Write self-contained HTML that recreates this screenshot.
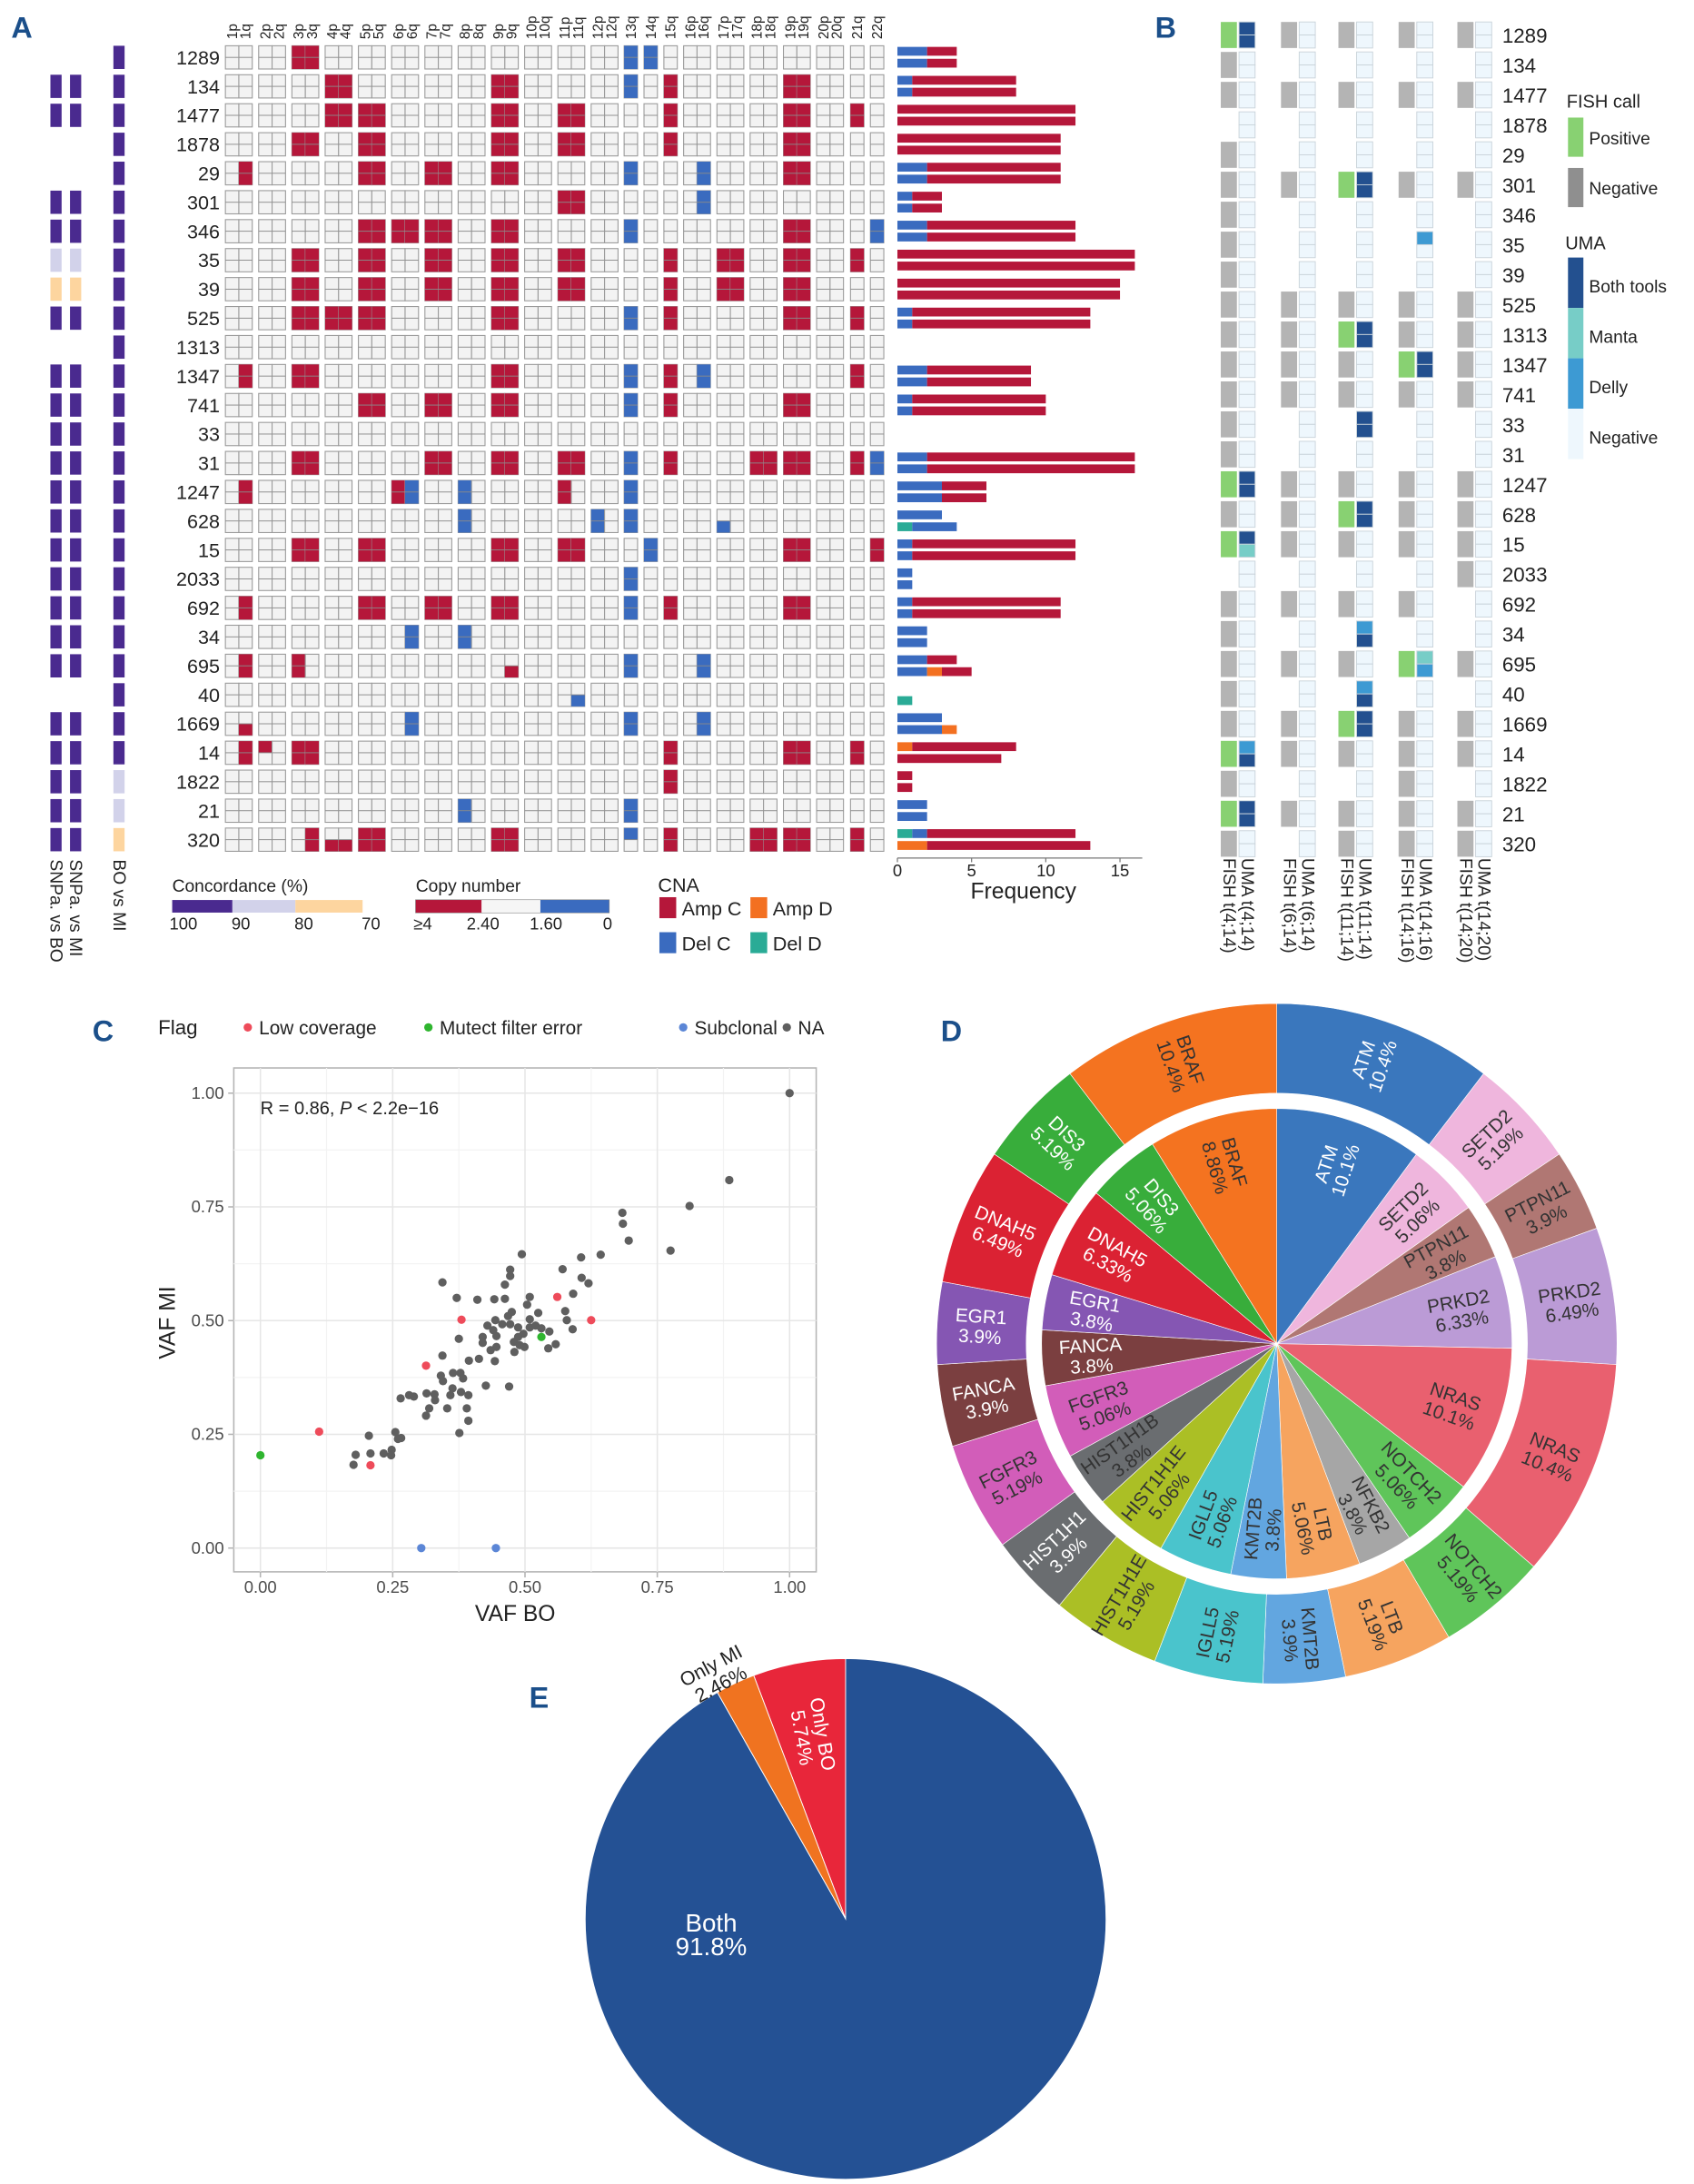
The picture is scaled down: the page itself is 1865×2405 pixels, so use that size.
<!DOCTYPE html>
<html><head><meta charset="utf-8">
<style>
html,body{margin:0;padding:0;background:#fff;}
svg{display:block;font-family:"Liberation Sans",Arial,sans-serif;}
</style></head>
<body>
<svg id="fig" xmlns="http://www.w3.org/2000/svg" width="1865" height="2405" viewBox="0 0 1210 1560.35">
<rect x="0" y="0" width="1210" height="1561" fill="#fff"/>
<text x="8" y="27" font-size="21" font-weight="bold" fill="#1b4f8a">A</text>
<text x="825" y="27" font-size="21" font-weight="bold" fill="#1b4f8a">B</text>
<text x="66" y="744" font-size="21" font-weight="bold" fill="#1b4f8a">C</text>
<text x="672" y="744" font-size="21" font-weight="bold" fill="#1b4f8a">D</text>
<text x="378" y="1220" font-size="21" font-weight="bold" fill="#1b4f8a">E</text>
<g id="gA"></g>
<g id="gB"></g>
<g id="gC"></g>
<g id="gD"></g>
<g id="gE"></g>
</svg>
<script>
// ---------- Panel A data ----------
const samples = ["1289","134","1477","1878","29","301","346","35","39","525","1313","1347","741","33","31","1247","628","15","2033","692","34","695","40","1669","14","1822","21","320"];
const chromosomes = ["1","2","3","4","5","6","7","8","9","10","11","12","13","14","15","16","17","18","19","20","21","22"];
const singleArm = ["13","14","15","21","22"];
const cnaEvents = [
 "3p:A,3q:A,13q:D,14q:D",
 "4p:A,4q:A,9p:A,9q:A,13q:D,15q:A,19p:A,19q:A",
 "4p:A,4q:A,5p:A,5q:A,9p:A,9q:A,11p:A,11q:A,15q:A,19p:A,19q:A,21q:A",
 "3p:A,3q:A,5p:A,5q:A,9p:A,9q:A,11p:A,11q:A,15q:A,19p:A,19q:A",
 "1q:A,5p:A,5q:A,7p:A,7q:A,9p:A,9q:A,13q:D,16q:D,19p:A,19q:A",
 "11p:A,11q:A,16q:D",
 "5p:A,5q:A,6p:A,6q:A,7p:A,7q:A,9p:A,9q:A,13q:D,19p:A,19q:A,22q:D",
 "3p:A,3q:A,5p:A,5q:A,7p:A,7q:A,9p:A,9q:A,11p:A,11q:A,15q:A,17p:A,17q:A,19p:A,19q:A,21q:A",
 "3p:A,3q:A,5p:A,5q:A,7p:A,7q:A,9p:A,9q:A,11p:A,11q:A,15q:A,17p:A,17q:A,19p:A,19q:A",
 "3p:A,3q:A,4p:A,4q:A,5p:A,5q:A,9p:A,9q:A,13q:D,15q:A,19p:A,19q:A,21q:A",
 "",
 "1q:A,3p:A,3q:A,9p:A,9q:A,13q:D,15q:A,16q:D,21q:A",
 "5p:A,5q:A,7p:A,7q:A,9p:A,9q:A,13q:D,15q:A,19p:A,19q:A",
 "",
 "3p:A,3q:A,7p:A,7q:A,9p:A,9q:A,11p:A,11q:A,13q:D,15q:A,18p:A,18q:A,19p:A,19q:A,21q:A,22q:D",
 "1q:A,6p:A,6q:D,8p:D,11p:A,13q:D",
 "8p:D,12p:D,13q:D,17p:Db",
 "3p:A,3q:A,5p:A,5q:A,9p:A,9q:A,11p:A,11q:A,14q:D,19p:A,19q:A,22q:A",
 "13q:D",
 "1q:A,5p:A,5q:A,7p:A,7q:A,9p:A,9q:A,13q:D,15q:A,19p:A,19q:A",
 "6q:D,8p:D",
 "1q:A,3p:A,9q:Ab,13q:D,16q:D",
 "11q:Db",
 "1q:Ab,6q:D,13q:D,16q:D",
 "1q:A,2p:At,3p:A,3q:A,15q:A,19p:A,19q:A,21q:A",
 "15q:A",
 "8p:D,13q:D",
 "3q:A,4p:Ab,4q:Ab,5p:A,5q:A,9p:A,9q:A,13q:Dt,15q:A,18p:A,18q:A,19p:A,19q:A,21q:A"
];
// frequency bars [DelD, DelC, AmpD, AmpC]
const freqTop = [[0,2,0,2],[0,1,0,7],[0,0,0,12],[0,0,0,11],[0,2,0,9],[0,1,0,2],[0,2,0,10],[0,0,0,16],[0,0,0,15],[0,1,0,12],[0,0,0,0],[0,2,0,7],[0,1,0,9],[0,0,0,0],[0,2,0,14],[0,3,0,3],[0,3,0,0],[0,1,0,11],[0,1,0,0],[0,1,0,10],[0,2,0,0],[0,2,0,2],[0,0,0,0],[0,3,0,0],[0,0,1,7],[0,0,0,1],[0,2,0,0],[1,1,0,10]];
const freqBottom = [[0,2,0,2],[0,1,0,7],[0,0,0,12],[0,0,0,11],[0,2,0,9],[0,1,0,2],[0,2,0,10],[0,0,0,16],[0,0,0,15],[0,1,0,12],[0,0,0,0],[0,2,0,7],[0,1,0,9],[0,0,0,0],[0,2,0,14],[0,3,0,3],[1,3,0,0],[0,1,0,11],[0,1,0,0],[0,1,0,10],[0,2,0,0],[0,2,1,2],[1,0,0,0],[0,3,1,0],[0,0,0,7],[0,0,0,1],[0,2,0,0],[0,0,2,11]];
const freqTicks = [0,5,10,15];
const concSNPa = "_PP__PPLOP_PPPPPPPPPPP_PPPPP";
const concBOMI = "PPPPPPPPPPPPPPPPPPPPPPPPPLLO";

// ---------- Panel B data ----------
const transLabels = ["t(4;14)","t(6;14)","t(11;14)","t(14;16)","t(14;20)"];
const fishCalls = ["PNNNN","N____","NNNNN","_____","N____","NNPNN","N____","N____","N____","NNNNN","NNPNN","NNNPN","NNNNN","N____","N____","PNNNN","NNPNN","PNNNN","____N","NNNN_","N____","NNNPN","N____","NNPNN","PNNNN","N__N_","PNNNN","N_NNN"];
const umaTop = ["BNNNN","NNNNN","NNNNN","NNNNN","NNNNN","NNBNN","NNNNN","NNNDN","NNNNN","NNNNN","NNBNN","NNNBN","NNNNN","NNBNN","NNNNN","BNNNN","NNBNN","BNNNN","NNNNN","NNNNN","NNDNN","NNNMN","NNDNN","NNBNN","DNNNN","NNNNN","BNNNN","NNNNN"];
const umaBottom = ["BNNNN","NNNNN","NNNNN","NNNNN","NNNNN","NNBNN","NNNNN","NNNNN","NNNNN","NNNNN","NNBNN","NNNBN","NNNNN","NNBNN","NNNNN","BNNNN","NNBNN","MNNNN","NNNNN","NNNNN","NNBNN","NNNDN","NNBNN","NNBNN","BNNNN","NNNNN","BNNNN","NNNNN"];

// ---------- Panel C data ----------
const vafBO = [1.00,0.886,0.811,0.684,0.685,0.696,0.775,0.643,0.606,0.494,0.571,0.472,0.472,0.462,0.344,0.607,0.620,0.371,0.410,0.442,0.462,0.509,0.504,0.591,0.525,0.576,0.579,0.590,0.475,0.468,0.444,0.429,0.440,0.457,0.472,0.487,0.509,0.509,0.520,0.531,0.546,0.497,0.487,0.479,0.490,0.499,0.480,0.446,0.420,0.420,0.446,0.435,0.558,0.544,0.375,0.344,0.394,0.413,0.443,0.364,0.378,0.341,0.345,0.383,0.426,0.470,0.363,0.379,0.393,0.359,0.314,0.329,0.330,0.265,0.281,0.290,0.319,0.353,0.390,0.313,0.393,0.376,0.255,0.205,0.266,0.260,0.248,0.247,0.233,0.208,0.180,0.176,0.111,0.208,0.313,0.380,0.561,0.625,0.000,0.531,0.304,0.445];
const vafMI = [1.00,0.809,0.752,0.737,0.713,0.676,0.654,0.645,0.639,0.646,0.613,0.612,0.598,0.579,0.584,0.594,0.582,0.550,0.546,0.547,0.548,0.552,0.535,0.559,0.517,0.521,0.501,0.481,0.519,0.510,0.501,0.489,0.479,0.492,0.492,0.485,0.503,0.485,0.489,0.483,0.476,0.471,0.464,0.453,0.446,0.442,0.431,0.466,0.464,0.451,0.442,0.435,0.448,0.439,0.460,0.423,0.412,0.416,0.411,0.385,0.385,0.379,0.367,0.373,0.357,0.355,0.351,0.343,0.336,0.336,0.340,0.338,0.325,0.329,0.336,0.333,0.307,0.307,0.307,0.291,0.280,0.253,0.255,0.247,0.242,0.240,0.216,0.204,0.208,0.208,0.205,0.183,0.256,0.182,0.401,0.502,0.552,0.501,0.204,0.464,0.000,0.000];
const flags = "NNNNNNNNNNNNNNNNNNNNNNNNNNNNNNNNNNNNNNNNNNNNNNNNNNNNNNNNNNNNNNNNNNNNNNNNNNNNNNNNNNNNNNNNNNNNLLLLLLMMSS";
const scatterTicks = [0,0.25,0.5,0.75,1];
const scatterTickLabels = ["0.00","0.25","0.50","0.75","1.00"];

// ---------- Panel D data ----------
const outerGenes = ["ATM","SETD2","PTPN11","PRKD2","NRAS","NOTCH2","LTB","KMT2B","IGLL5","HIST1H1E","HIST1H1","FGFR3","FANCA","EGR1","DNAH5","DIS3","BRAF"];
const outerPct = [10.4,5.19,3.9,6.49,10.4,5.19,5.19,3.9,5.19,5.19,3.9,5.19,3.9,3.9,6.49,5.19,10.4];
const innerGenes = ["ATM","SETD2","PTPN11","PRKD2","NRAS","NOTCH2","NFKB2","LTB","KMT2B","IGLL5","HIST1H1E","HIST1H1B","FGFR3","FANCA","EGR1","DNAH5","DIS3","BRAF"];
const innerPct = [10.1,5.06,3.8,6.33,10.1,5.06,3.8,5.06,3.8,5.06,5.06,3.8,5.06,3.8,3.8,6.33,5.06,8.86];

// ---------- Panel E data ----------
const eLabels = ["Only BO","Only MI","Both"];
const ePct = [5.74,2.46,91.8];

// ---------- helpers ----------
const NS = "http://www.w3.org/2000/svg";
function mk(tag, attrs, parent){
  const e = document.createElementNS(NS, tag);
  for (const k in attrs) e.setAttribute(k, attrs[k]);
  parent.appendChild(e);
  return e;
}
function txt(parent, x, y, s, size, extra){
  const a = Object.assign({x:x, y:y, "font-size":size, fill:"#222"}, extra||{});
  const t = mk("text", a, parent);
  t.textContent = s;
  return t;
}
const RED="#b5173a", BLUE="#3a6bbf", ORANGE="#f37021", TEAL="#2aab96", PURPLE="#4a2a8f", LAV="#d2d2ea", PEACH="#fdd59f";

// ================= Panel A =================
(function(){
  const g = document.getElementById("gA");
  const rowY = r => 41 + r*20.7;
  const cellH = 16.6, armW = 9.6;
  const armX = {};
  const pairX = [161,184.75,208.5,232.25,256,279.75,303.5,327.25,351,374.75,398.5,422.25];
  chromosomes.forEach((c,i)=>{
    let x;
    if (i<12) x = pairX[i];
    else x = [445.8,460,474.2,488.3,512.1,535.8,559.6,583.3,607.5,621.7][i-12];
    if (singleArm.includes(c)) { armX[c+"q"] = x; }
    else { armX[c+"p"] = x; armX[c+"q"] = x+armW; }
  });
  chromosomes.forEach(c=>{
    const arms = singleArm.includes(c) ? [c+"q"] : [c+"p",c+"q"];
    arms.forEach(a=>{
      const cx = armX[a]+armW/2+3.5;
      const t = txt(g, 0, 0, a, 10, {transform:`translate(${cx},28) rotate(-90)`});
      
      
    });
  });
  samples.forEach((s,r)=>{
    const cy = rowY(r), top = cy-cellH/2;
    const lab = txt(g, 157, cy+5, s, 14, {"text-anchor":"end"});
    
    
    const conc = [[36,concSNPa[r]],[50,concSNPa[r]],[81,concBOMI[r]]];
    conc.forEach(([x,c],k)=>{
      if (c==="_") return;
      const col = c==="P"?PURPLE:(c==="L"?LAV:PEACH);
      const b = mk("rect",{x:x,y:top,width:8,height:cellH,fill:col},g);
      
      
    });
    const ev = {};
    cnaEvents[r].split(",").filter(x=>x).forEach(e=>{
      const [arm,code] = e.split(":");
      ev[arm] = code;
    });
    Object.keys(armX).forEach(a=>{
      const x = armX[a];
      const bg = mk("rect",{x:x,y:top,width:armW,height:cellH,fill:"#f3f3f3",stroke:"#9a9a9a","stroke-width":0.7},g);
      
      
      const code = ev[a];
      if (code){
        const col = code[0]==="A"?RED:BLUE;
        let y = top, h = cellH;
        if (code[1]==="t") h = cellH/2;
        if (code[1]==="b") { y = top+cellH/2; h = cellH/2; }
        const f = mk("rect",{x:x,y:y,width:armW,height:h,fill:col},g);
        
        
      }
      mk("line",{x1:x,x2:x+armW,y1:cy,y2:cy,stroke:"#8a8a8a","stroke-width":0.6},g);
    });
    const fx = v => 641 + v*10.6;
    [[freqTop[r],cy-7.5],[freqBottom[r],cy+1]].forEach(([vals,y])=>{
      let acc = 0;
      [TEAL,BLUE,ORANGE,RED].forEach((col,k)=>{
        if (!vals[k]) return;
        const b = mk("rect",{x:fx(acc),y:y,width:fx(acc+vals[k])-fx(acc),height:6.3,fill:col},g);
        
        
        acc += vals[k];
      });
    });
  });
  const fx = v => 641 + v*10.6;
  mk("line",{x1:fx(0),x2:fx(16.5),y1:613,y2:613,stroke:"#777","stroke-width":0.8},g);
  freqTicks.forEach(v=>{
    mk("line",{x1:fx(v),x2:fx(v),y1:613,y2:616,stroke:"#777","stroke-width":0.8},g);
    const t = txt(g, fx(v), 626, String(v), 12, {"text-anchor":"middle"});
    
    
  });
  const ft = txt(g, 731, 642, "Frequency", 16, {"text-anchor":"middle"});
  
  
  [["SNPa. vs BO",36],["SNPa. vs MI",50],["BO vs MI",81]].forEach(([s,x])=>{
    const t = txt(g, 0, 0, s, 12.5, {transform:`translate(${x},614) rotate(90)`});
    
    
  });
  let t = txt(g,123,637,"Concordance (%)",12.5);  
  mk("rect",{x:123,y:643,width:43,height:9,fill:PURPLE},g);
  mk("rect",{x:166,y:643,width:45,height:9,fill:LAV},g);
  mk("rect",{x:211,y:643,width:48,height:9,fill:PEACH},g);
  [["100",131],["90",172],["80",217],["70",265]].forEach(([s,x])=>{ const l=txt(g,x,664,s,12,{"text-anchor":"middle"});   });
  t = txt(g,297,637,"Copy number",12.5);  
  mk("rect",{x:297,y:643,width:138,height:9,fill:"none",stroke:"#888","stroke-width":0.8},g);
  mk("rect",{x:297,y:643,width:47,height:9,fill:RED},g);
  mk("rect",{x:344,y:643,width:42,height:9,fill:"#f6f6f6"},g);
  mk("rect",{x:386,y:643,width:49,height:9,fill:BLUE},g);
  [["≥4",302],["2.40",345],["1.60",390],["0",434]].forEach(([s,x])=>{ const l=txt(g,x,664,s,12,{"text-anchor":"middle"});   });
  t = txt(g,470,637,"CNA",14);  
  [[471,641,RED,"Amp C"],[536,641,ORANGE,"Amp D"],[471,666,BLUE,"Del C"],[536,666,TEAL,"Del D"]].forEach(([x,y,c,s])=>{
    const r = mk("rect",{x:x,y:y,width:12,height:15,fill:c},g);
    
    
    const l = txt(g,x+16,y+13,s,14);
    
    
  });
})();

// ================= Panel B =================
(function(){
  const g = document.getElementById("gB");
  const fishX = [872,915,956,999,1041];
  const rowY = r => 25 + r*21.4;
  const h = 18.6, w = 11.5;
  const umaCol = {B:"#23508f",M:"#77cdc7",D:"#3d9ad3",N:"#eef7fd"};
  samples.forEach((s,r)=>{
    const cy = rowY(r), top = cy-h/2;
    for (let k=0;k<5;k++){
      const f = fishCalls[r][k];
      if (f!=="_"){
        const rr = mk("rect",{x:fishX[k],y:top,width:w,height:h,fill:f==="P"?"#88d172":"#b4b4b4"},g);
        
        
      }
      const ux = fishX[k]+13;
      const a = mk("rect",{x:ux,y:top,width:w,height:h/2,fill:umaCol[umaTop[r][k]],stroke:"#c9d3da","stroke-width":0.6},g);
      
      
      const b = mk("rect",{x:ux,y:top+h/2,width:w,height:h/2,fill:umaCol[umaBottom[r][k]],stroke:"#c9d3da","stroke-width":0.6},g);
      
      
    }
    const l = txt(g,1073,cy+5.5,s,14.5);
    
    
  });
  transLabels.forEach((tl,k)=>{
    const a = txt(g,0,0,"FISH "+tl,12.5,{transform:`translate(${fishX[k]+2},613) rotate(90)`});
    
    
    const b = txt(g,0,0,"UMA "+tl,12.5,{transform:`translate(${fishX[k]+15},613) rotate(90)`});
    
    
  });
  let t = txt(g,1119,77,"FISH call",13);  
  const leg = [[84,"#88d172","Positive"],[120,"#8f8f8f","Negative"]];
  leg.forEach(([y,c,s])=>{ mk("rect",{x:1120,y:y,width:11,height:28,fill:c},g); const l=txt(g,1135,y+19,s,12.5);   });
  t = txt(g,1118,178,"UMA",13);  
  [[184,"#23508f","Both tools"],[220,"#77cdc7","Manta"],[256,"#3d9ad3","Delly"],[292,"#eef7fd","Negative"]].forEach(([y,c,s])=>{
    mk("rect",{x:1120,y:y,width:11,height:36,fill:c},g);
    const l=txt(g,1135,y+25,s,12.5);  
  });
})();

// ================= Panel C =================
(function(){
  const g = document.getElementById("gC");
  const X = v => 186 + v*378, Y = v => 1106 - v*325;
  const flagCol = {N:"#5f5f5f",L:"#ee4b5a",M:"#2fb52f",S:"#5b86d6"};
  mk("rect",{x:167,y:763,width:416,height:360,fill:"#fff",stroke:"#b3b3b3","stroke-width":1},g);
  [0.125,0.375,0.625,0.875].forEach(v=>{
    mk("line",{x1:167,x2:583,y1:Y(v),y2:Y(v),stroke:"#f3f3f3","stroke-width":0.8},g);
    mk("line",{x1:X(v),x2:X(v),y1:763,y2:1123,stroke:"#f3f3f3","stroke-width":0.8},g);
  });
  scatterTicks.forEach((v,i)=>{
    mk("line",{x1:167,x2:583,y1:Y(v),y2:Y(v),stroke:"#e6e6e6","stroke-width":1},g);
    mk("line",{x1:X(v),x2:X(v),y1:763,y2:1123,stroke:"#e6e6e6","stroke-width":1},g);
    mk("line",{x1:163,x2:167,y1:Y(v),y2:Y(v),stroke:"#b3b3b3"},g);
    mk("line",{x1:X(v),x2:X(v),y1:1123,y2:1127,stroke:"#b3b3b3"},g);
    const a = txt(g,160,Y(v)+4,scatterTickLabels[i],12,{"text-anchor":"end",fill:"#4d4d4d"});
    
    
    const b = txt(g,X(v),1138,scatterTickLabels[i],12,{"text-anchor":"middle",fill:"#4d4d4d"});
    
    
  });
  vafBO.forEach((v,i)=>{
    const c = mk("circle",{cx:X(v),cy:Y(vafMI[i]),r:3,fill:flagCol[flags[i]]},g);
    
    
  });
  let t = txt(g,186,796,"R = 0.86, ",13);  
  const ts = mk("tspan",{"font-style":"italic"},t); ts.textContent="P";
  const ts2 = mk("tspan",{},t); ts2.textContent=" < 2.2e−16";
  t = txt(g,368,1158,"VAF BO",16,{"text-anchor":"middle"});  
  t = txt(g,0,0,"VAF MI",16,{"text-anchor":"middle",transform:"translate(125,945) rotate(-90)"});  
  t = txt(g,113,739,"Flag",14.5);  
  [[177,"#ee4b5a","Low coverage"],[306,"#2fb52f","Mutect filter error"],[488,"#5b86d6","Subclonal"],[562,"#5f5f5f","NA"]].forEach(([x,c,s])=>{
    mk("circle",{cx:x,cy:734,r:3,fill:c},g);
    const l = txt(g,x+8,739,s,13.5);
    
    
  });
})();

// ================= Panel D =================
function pt(cx,cy,r,a){ const t=a*Math.PI/180; return [cx+r*Math.sin(t), cy-r*Math.cos(t)]; }
function arcPath(cx,cy,r0,r1,a0,a1){
  const large = (a1-a0)>180?1:0;
  const [x1,y1]=pt(cx,cy,r1,a0),[x2,y2]=pt(cx,cy,r1,a1);
  if (r0<=0) return `M${cx},${cy} L${x1},${y1} A${r1},${r1} 0 ${large} 1 ${x2},${y2} Z`;
  const [x3,y3]=pt(cx,cy,r0,a1),[x4,y4]=pt(cx,cy,r0,a0);
  return `M${x1},${y1} A${r1},${r1} 0 ${large} 1 ${x2},${y2} L${x3},${y3} A${r0},${r0} 0 ${large} 0 ${x4},${y4} Z`;
}
(function(){
  const g = document.getElementById("gD");
  const cx=912, cy=960;
  const col = {ATM:"#3a77bd",SETD2:"#efb6dd",PTPN11:"#b07773",PRKD2:"#bb9bd6",NRAS:"#e9606f",NOTCH2:"#5fc55a",NFKB2:"#a6a6a6",LTB:"#f6a45f",KMT2B:"#62a6e0",IGLL5:"#4ac4cc",HIST1H1E:"#abbf25",HIST1H1:"#6a6d70",HIST1H1B:"#6a6d70",FGFR3:"#d25db9",FANCA:"#7b3f40",EGR1:"#8556b3",DNAH5:"#db2233",DIS3:"#38ad3b",BRAF:"#f47320"};
  const white = {ATM:1,DIS3:1,DNAH5:1,EGR1:1,FANCA:1,HIST1H1:1};
  function ring(genes,pcts,r0,r1,rl,fs,tag){
    const tot = pcts.reduce((a,b)=>a+b,0);
    let a = 0;
    genes.forEach((gn,i)=>{
      const a1 = a + pcts[i]/tot*360;
      const p = mk("path",{d:arcPath(cx,cy,r0,r1,a,a1),fill:col[gn],stroke:"#fff","stroke-width":0.4},g);
      
      
      const m = (a+a1)/2;
      const [lx,ly] = pt(cx,cy,rl,m);
      const rot = m<=180 ? m-90 : m-270;
      const t = mk("text",{x:0,y:0,"font-size":fs,"text-anchor":"middle",fill:white[gn]?"#fff":"#333",transform:`translate(${lx},${ly}) rotate(${rot})`},g);
      const s1 = mk("tspan",{x:0,dy:-2},t); s1.textContent = gn;
      const s2 = mk("tspan",{x:0,dy:fs+1},t); s2.textContent = pcts[i]+"%";
      
      
      a = a1;
    });
  }
  ring(outerGenes,outerPct,179,243,212,13.5,"outer");
  const wc = mk("circle",{cx:cx,cy:cy,r:179,fill:"#fff"},g);
  
  
  ring(innerGenes,innerPct,0,168,133,13.5,"inner");
})();

// ================= Panel E =================
(function(){
  const g = document.getElementById("gE");
  const cx=604, cy=1371, r=186;
  const cols = ["#e8263a","#f07320","#245194"];
  let a = 0;
  ePct.forEach((p,i)=>{
    const a0 = a - p/100*360;
    const path = mk("path",{d:arcPath(cx,cy,0,r,a0,a),fill:cols[i],stroke:"#fff","stroke-width":0.6},g);
    
    
    a = a0;
  });
  let t = mk("text",{x:0,y:0,"font-size":14,"text-anchor":"middle",fill:"#fff",transform:`translate(581,1240) rotate(80)`},g);
  let s1 = mk("tspan",{x:0,dy:-2},t); s1.textContent="Only BO";
  let s2 = mk("tspan",{x:0,dy:15},t); s2.textContent="5.74%";
  
  
  t = mk("text",{x:0,y:0,"font-size":14,"text-anchor":"middle",fill:"#222",transform:`translate(511,1196) rotate(-28)`},g);
  s1 = mk("tspan",{x:0,dy:-2},t); s1.textContent="Only MI";
  s2 = mk("tspan",{x:0,dy:15},t); s2.textContent="2.46%";
  
  
  t = mk("text",{x:508,y:1380,"font-size":18,"text-anchor":"middle",fill:"#fff"},g);
  s1 = mk("tspan",{x:508,dy:0},t); s1.textContent="Both";
  s2 = mk("tspan",{x:508,dy:17},t); s2.textContent="91.8%";
  
  
})();
</script>
</body></html>
